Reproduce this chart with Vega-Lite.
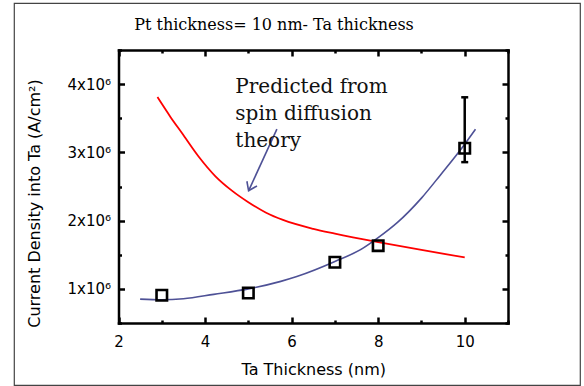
{
  "$schema": "https://vega.github.io/schema/vega-lite/v6.json",
  "width": 566,
  "height": 382,
  "autosize": "none",
  "padding": {"left": 14, "top": 3, "right": 4, "bottom": 1},
  "background": "white",
  "config": {"view": {"stroke": "#444444", "strokeWidth": 1.2}},
  "title": {
    "text": "Pt thickness= 10 nm- Ta thickness",
    "font": "DejaVu Serif",
    "fontSize": 16,
    "fontWeight": "normal",
    "color": "black",
    "anchor": "middle",
    "frame": "group",
    "dx": -23,
    "offset": 0,
    "baseline": "alphabetic",
    "dy": 43
  },
  "resolve": {"axis": {"x": "independent", "y": "independent"}},
  "layer": [
    {
      "data": {"values": [
        {"t": 2.9, "j": 3810000}, {"t": 3.2, "j": 3520000}, {"t": 3.47, "j": 3280000},
        {"t": 3.85, "j": 2940000}, {"t": 4.24, "j": 2650000}, {"t": 4.62, "j": 2440000},
        {"t": 5.0, "j": 2270000}, {"t": 5.4, "j": 2120000}, {"t": 5.8, "j": 2010000},
        {"t": 6.5, "j": 1880000}, {"t": 7.0, "j": 1810000}, {"t": 8.0, "j": 1685000},
        {"t": 9.0, "j": 1570000}, {"t": 10.0, "j": 1460000}
      ]},
      "mark": {"type": "line", "color": "#FF0000", "strokeWidth": 1.8, "interpolate": "monotone"},
      "encoding": {
        "x": {
          "field": "t", "type": "quantitative",
          "scale": {"domain": [2, 11], "range": [104.5, 494], "nice": false, "zero": false},
          "axis": {
            "orient": "bottom", "offset": -62,
            "values": [2, 3, 4, 5, 6, 7, 8, 9, 10, 11],
            "labelExpr": "datum.value % 2 === 0 ? datum.label : ''",
            "grid": false,
            "domainColor": "black", "domainWidth": 2.5, "domainCap": "square",
            "tickColor": "black", "tickWidth": 2.5,
            "tickSize": {"condition": {"test": "datum.value % 2 === 0", "value": -6}, "value": -3},
            "labelFont": "DejaVu Sans", "labelFontSize": 15, "labelColor": "black",
            "labelPadding": 17, "labelFlush": false, "labelOverlap": false,
            "title": "Ta Thickness (nm)",
            "titleFont": "DejaVu Sans", "titleFontSize": 16, "titleFontWeight": "normal",
            "titleColor": "black", "titlePadding": 9
          }
        },
        "y": {
          "field": "j", "type": "quantitative",
          "scale": {"domain": [500000, 4500000], "range": [320, 47], "nice": false, "zero": false},
          "axis": {
            "orient": "left", "offset": -104.5,
            "values": [500000, 1000000, 1500000, 2000000, 2500000, 3000000, 3500000, 4000000, 4500000],
            "labelExpr": "datum.value % 1000000 === 0 ? (datum.value / 1000000) + 'x10⁶' : ''",
            "grid": false,
            "domainColor": "black", "domainWidth": 2.5, "domainCap": "square",
            "tickColor": "black", "tickWidth": 2.5,
            "tickSize": {"condition": {"test": "datum.value % 1000000 === 0", "value": -6}, "value": -3},
            "labelFont": "DejaVu Sans", "labelFontSize": 15, "labelColor": "black",
            "labelPadding": 14, "labelFlush": false, "labelOverlap": false,
            "title": "Current Density into Ta (A/cm²)",
            "titleFont": "DejaVu Sans", "titleFontSize": 16, "titleFontWeight": "normal",
            "titleColor": "black", "titleX": -84, "titleY": 200,
            "titleAlign": "center", "titleBaseline": "middle", "titleAngle": -90
          }
        }
      }
    },
    {
      "data": {"values": [
        {"t": 2.5, "j": 850000}, {"t": 3.0, "j": 840000}, {"t": 3.5, "j": 855000},
        {"t": 4.2, "j": 920000}, {"t": 5.0, "j": 1000000}, {"t": 5.75, "j": 1110000},
        {"t": 6.12, "j": 1180000}, {"t": 7.0, "j": 1400000}, {"t": 7.66, "j": 1600000},
        {"t": 8.0, "j": 1750000}, {"t": 8.44, "j": 1970000}, {"t": 9.0, "j": 2330000},
        {"t": 9.44, "j": 2670000}, {"t": 10.0, "j": 3120000}, {"t": 10.25, "j": 3340000}
      ]},
      "mark": {"type": "line", "color": "#4E5196", "strokeWidth": 1.6, "interpolate": "monotone"},
      "encoding": {
        "x": {
          "field": "t", "type": "quantitative",
          "axis": {
            "orient": "top", "offset": -47,
            "values": [2, 3, 4, 5, 6, 7, 8, 9, 10, 11],
            "labels": false, "title": null, "grid": false,
            "domainColor": "black", "domainWidth": 2.5, "domainCap": "square",
            "tickColor": "black", "tickWidth": 2.5,
            "tickSize": {"condition": {"test": "datum.value % 2 === 0", "value": -6}, "value": -3}
          }
        },
        "y": {
          "field": "j", "type": "quantitative",
          "axis": {
            "orient": "right", "offset": -72,
            "values": [500000, 1000000, 1500000, 2000000, 2500000, 3000000, 3500000, 4000000, 4500000],
            "labels": false, "title": null, "grid": false,
            "domainColor": "black", "domainWidth": 2.5, "domainCap": "square",
            "tickColor": "black", "tickWidth": 2.5,
            "tickSize": {"condition": {"test": "datum.value % 1000000 === 0", "value": -6}, "value": -3}
          }
        }
      }
    },
    {
      "data": {"values": [{"t": 10, "lo": 2857000, "hi": 3807000}]},
      "mark": {"type": "rule", "color": "black", "strokeWidth": 2.5},
      "encoding": {
        "x": {"field": "t", "type": "quantitative", "axis": null},
        "y": {"field": "lo", "type": "quantitative", "axis": null},
        "y2": {"field": "hi"}
      }
    },
    {
      "data": {"values": [{"t": 10, "j": 2857000}, {"t": 10, "j": 3807000}]},
      "mark": {"type": "point", "shape": "stroke", "size": 49, "strokeWidth": 2.5, "color": "black", "opacity": 1},
      "encoding": {
        "x": {"field": "t", "type": "quantitative", "axis": null},
        "y": {"field": "j", "type": "quantitative", "axis": null}
      }
    },
    {
      "data": {"values": [
        {"t": 3, "j": 906000}, {"t": 5, "j": 940000}, {"t": 7, "j": 1390000},
        {"t": 8, "j": 1633000}, {"t": 10, "j": 3060000}
      ]},
      "mark": {"type": "point", "shape": "square", "size": 110, "strokeWidth": 2.6, "color": "black", "filled": false, "opacity": 1},
      "encoding": {
        "x": {"field": "t", "type": "quantitative", "axis": null},
        "y": {"field": "j", "type": "quantitative", "axis": null}
      }
    },
    {
      "data": {"values": [{"t": 5.66, "j": 3340000}, {"t": 5.006, "j": 2437000}]},
      "mark": {"type": "line", "color": "#4E5196", "strokeWidth": 1.6},
      "encoding": {
        "x": {"field": "t", "type": "quantitative", "axis": null},
        "y": {"field": "j", "type": "quantitative", "axis": null}
      }
    },
    {
      "data": {"values": [{"t": 5.006, "j": 2437000}]},
      "mark": {"type": "point", "shape": "M -0.574 -0.819 L 0 0 L 0.574 -0.819", "angle": 25, "size": 376, "strokeWidth": 1.6, "color": "#4E5196", "filled": false, "opacity": 1},
      "encoding": {
        "x": {"field": "t", "type": "quantitative", "axis": null},
        "y": {"field": "j", "type": "quantitative", "axis": null}
      }
    },
    {
      "data": {"values": [{"t": 4.7, "j": 3865000, "label": "Predicted from\nspin diffusion\ntheory"}]},
      "mark": {"type": "text", "font": "DejaVu Serif", "fontSize": 20, "align": "left", "baseline": "alphabetic", "lineBreak": "\n", "lineHeight": 27, "color": "#111111"},
      "encoding": {
        "x": {"field": "t", "type": "quantitative", "axis": null},
        "y": {"field": "j", "type": "quantitative", "axis": null},
        "text": {"field": "label"}
      }
    }
  ]
}
